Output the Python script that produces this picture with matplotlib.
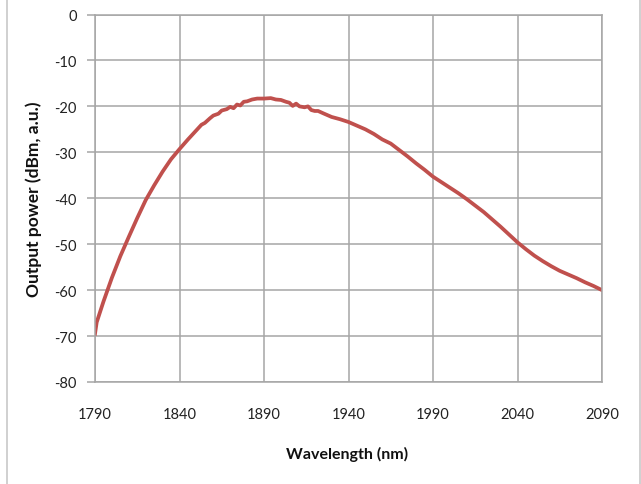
import matplotlib
matplotlib.use('Agg')
import matplotlib.pyplot as plt
from matplotlib.lines import Line2D

# wavelength (nm) and output power (dBm, a.u.)
wavelength = [1790, 1791, 1795, 1800, 1805, 1810, 1815, 1820, 1825, 1830,
              1835, 1840, 1845, 1848, 1850, 1853, 1855, 1858, 1860, 1863,
              1865, 1868, 1870, 1872, 1874, 1876, 1878, 1880, 1883, 1886,
              1890, 1894, 1897, 1900, 1903, 1905, 1907, 1909, 1911, 1914,
              1916, 1918, 1920, 1922, 1925, 1930, 1935, 1940, 1945, 1950,
              1955, 1960, 1965, 1970, 1975, 1980, 1985, 1990, 1995, 2000,
              2005, 2010, 2015, 2020, 2025, 2030, 2035, 2040, 2045, 2050,
              2055, 2060, 2065, 2070, 2075, 2080, 2085, 2090]
power = [-69.5, -67.0, -62.5, -57.3, -52.6, -48.4, -44.3, -40.4, -37.2, -34.2,
         -31.5, -29.3, -27.2, -26.0, -25.2, -24.0, -23.6, -22.6, -22.0, -21.6,
         -20.9, -20.6, -20.1, -20.4, -19.6, -19.8, -19.0, -18.9, -18.5, -18.3,
         -18.3, -18.2, -18.5, -18.6, -19.0, -19.2, -19.9, -19.4, -20.0, -20.2,
         -20.0, -20.8, -21.0, -21.0, -21.5, -22.3, -22.8, -23.4, -24.2, -25.0,
         -26.0, -27.2, -28.1, -29.5, -30.9, -32.4, -33.8, -35.3, -36.5, -37.7,
         -38.9, -40.2, -41.6, -43.0, -44.6, -46.2, -47.9, -49.6, -51.1, -52.5,
         -53.7, -54.8, -55.8, -56.6, -57.4, -58.3, -59.1, -60.0]

x_ticks = [1790, 1840, 1890, 1940, 1990, 2040, 2090]
y_ticks = [0, -10, -20, -30, -40, -50, -60, -70, -80]

GRID = '#A6A6A6'
plt.rcParams['font.family'] = ['Lato', 'DejaVu Sans']
plt.rcParams['axes.unicode_minus'] = False

fig = plt.figure(figsize=(6.41, 4.85), dpi=100)
ax = fig.add_axes([95/641, 1 - 383/485, (602 - 95)/641, (383 - 15.5)/485])

ax.plot(wavelength, power, color='#C0504D', lw=2.7, solid_joinstyle='round')

ax.set_xlim(1790, 2090)
ax.set_ylim(-80, 0)
ax.set_xticks(x_ticks)
ax.set_yticks(y_ticks)
ax.grid(True, color=GRID, lw=1.1)
ax.set_axisbelow(True)
for s in ax.spines.values():
    s.set_color(GRID)
    s.set_linewidth(1.1)

ax.tick_params(axis='x', length=0, pad=18, labelsize=10.5, colors='#222222')
ax.tick_params(axis='y', length=6, width=1.1, color=GRID, pad=7,
               labelsize=10.5, labelcolor='#222222')

ax.set_xlabel('Wavelength (nm)', fontsize=11.5, fontweight='bold', color='#111111')
ax.set_ylabel('Output power (dBm, a.u.)', fontsize=12.5, fontweight='bold', color='#111111')
ax.xaxis.set_label_coords((347 - 95)/507, -(447 - 383)/367.5)
ax.yaxis.set_label_coords(-(95 - 42)/507, 0.5)

# outer frame edges
fig.add_artist(Line2D([7/641, 7/641], [0, 1], color='#C8C8C8', lw=1.2))
fig.add_artist(Line2D([640/641, 640/641], [0, 1], color='#C8C8C8', lw=1.2))

fig.savefig('out.png', dpi=100)
